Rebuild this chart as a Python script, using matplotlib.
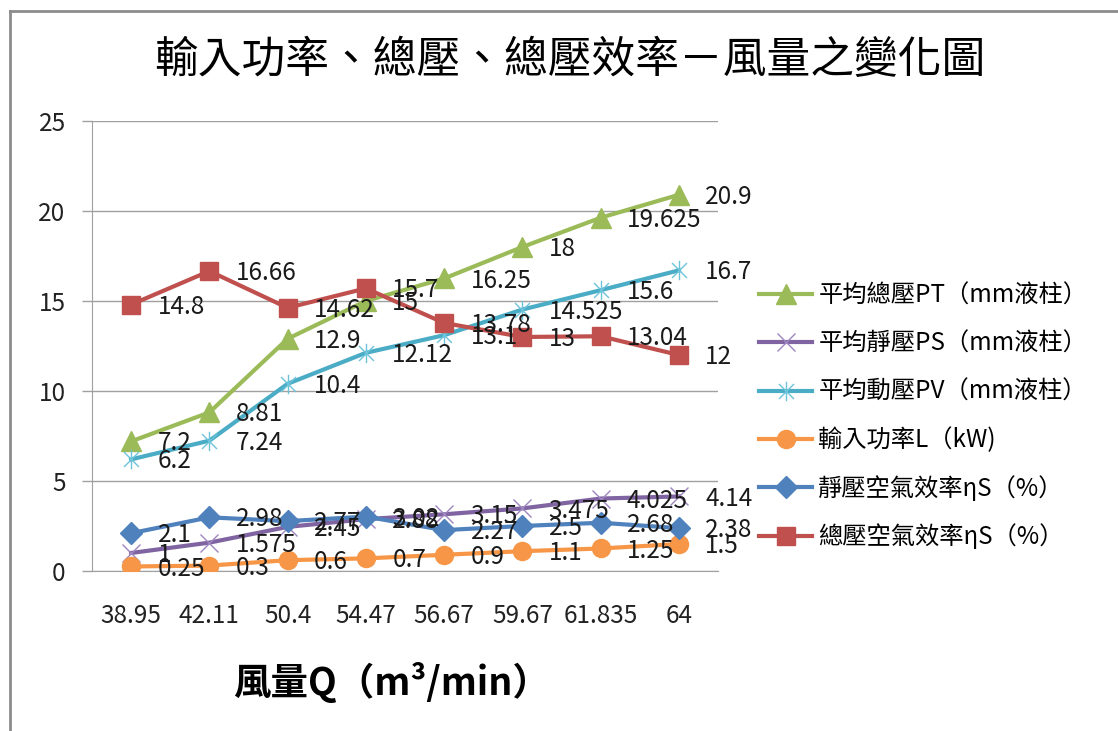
import numpy as np
import matplotlib
matplotlib.use('Agg')
import matplotlib.pyplot as plt
from matplotlib.lines import Line2D
from matplotlib.path import Path

plt.rcParams['font.family'] = ['Noto Sans CJK TC', 'DejaVu Sans']

# 風量 Q（m3/min）
categories = ['38.95', '42.11', '50.4', '54.47', '56.67', '59.67', '61.835', '64']

# 各系列數值
pt = [7.2, 8.81, 12.9, 15, 16.25, 18, 19.625, 20.9]          # 平均總壓PT
ps = [1, 1.575, 2.45, 2.88, 3.15, 3.475, 4.025, 4.14]        # 平均靜壓PS
pv = [6.2, 7.24, 10.4, 12.12, 13.1, 14.525, 15.6, 16.7]      # 平均動壓PV
power = [0.25, 0.3, 0.6, 0.7, 0.9, 1.1, 1.25, 1.5]           # 輸入功率L
eta_s = [2.1, 2.98, 2.77, 3.02, 2.27, 2.5, 2.68, 2.38]        # 靜壓空氣效率
eta_t = [14.8, 16.66, 14.62, 15.7, 13.78, 13, 13.04, 12]      # 總壓空氣效率

labels = ['平均總壓PT（mm液柱）', '平均靜壓PS（mm液柱）', '平均動壓PV（mm液柱）',
          '輸入功率L（kW)', '靜壓空氣效率ηS（%）', '總壓空氣效率ηS（%）']

# Excel 的星形標記：X 加一條直線
star = Path([(-1, -1), (1, 1), (-1, 1), (1, -1), (0, -1.3), (0, 1.3)],
            [Path.MOVETO, Path.LINETO, Path.MOVETO, Path.LINETO, Path.MOVETO, Path.LINETO])

series = [pt, ps, pv, power, eta_s, eta_t]
colors = ['#9BBB59', '#8064A2', '#4BACC6', '#F79646', '#4F81BD', '#C0504D']
markers = ['^', 'x', star, 'o', 'D', 's']
msizes = [14, 13, 14, 13, 11, 13]
edge_cols = ['#9BBB59', '#9D86C0', '#6CC3DA', '#F79646', '#4F81BD', '#C0504D']

fig = plt.figure(figsize=(11.18, 7.31), dpi=100)
ax = fig.add_axes([0.0823, 0.2189, 0.5599, 0.6156])

x = np.arange(len(categories))
handles = []
for vals, c, m, ms, ec, lab in zip(series, colors, markers, msizes, edge_cols, labels):
    h, = ax.plot(x, vals, color=c, lw=3, marker=m, markersize=ms,
                 markerfacecolor=c, markeredgecolor=ec, markeredgewidth=1,
                 label=lab, zorder=3)
    handles.append(h)

# 資料標籤（點的右側）
for vals in series:
    for xi, v in zip(x, vals):
        ax.annotate('%g' % v, (xi, v), xytext=(19, -1.5), textcoords='offset points',
                    ha='left', va='center', fontsize=17.5, color='#1a1a1a', zorder=5)

ax.set_xlim(-0.5, len(categories) - 0.5)
ax.set_ylim(0, 25)
ax.set_yticks([0, 5, 10, 15, 20, 25])
ax.set_xticks(x)
ax.set_xticklabels(categories)
ax.tick_params(axis='x', length=0, pad=23, labelsize=17.5, labelcolor='#222222')
ax.tick_params(axis='y', length=7, width=1, color='#A0A0A0', pad=12, labelsize=17.5,
               labelcolor='#222222')
ax.yaxis.grid(True, color='#A0A0A0', lw=1)
ax.set_axisbelow(True)
for s in ['top', 'right']:
    ax.spines[s].set_visible(False)
ax.spines['left'].set_color('#A0A0A0')
ax.spines['bottom'].set_color('#A0A0A0')

fig.text(0.51, 0.918, '輸入功率、總壓、總壓效率－風量之變化圖', ha='center', va='center',
         fontsize=31.5, color='black')
fig.text(0.35, 0.066, '風量Q（m³/min）', ha='center', va='center', fontsize=27,
         fontweight='bold', color='black')

fig.legend(handles=handles, labels=labels, loc='upper left',
           bbox_to_anchor=(0.670, 0.627), frameon=False, fontsize=17.5,
           handlelength=2.2, handletextpad=0.25, labelspacing=0.92,
           borderaxespad=0)

# 圖表外框
fig.add_artist(Line2D([10 / 1118, 1], [1 - 11 / 731, 1 - 11 / 731], color='#8C8C8C', lw=2))
fig.add_artist(Line2D([10 / 1118, 10 / 1118], [0, 1 - 11 / 731], color='#8C8C8C', lw=2))

plt.savefig('out.png', dpi=100)
